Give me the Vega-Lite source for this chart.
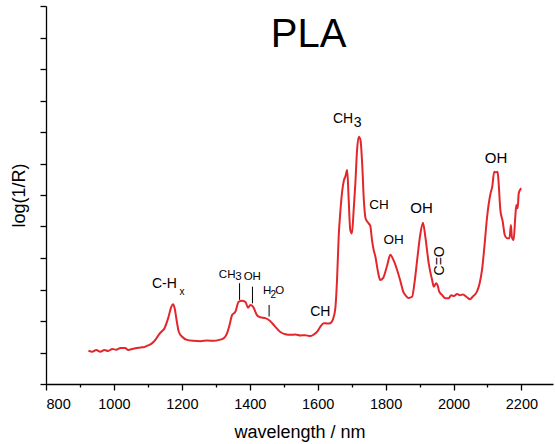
{
  "$schema": "https://vega.github.io/schema/vega-lite/v6.json",
  "autosize": {"type": "none"},
  "padding": {"left": 46, "top": 6, "right": 2, "bottom": 60},
  "width": 507,
  "height": 378,
  "background": "white",
  "config": {
    "view": {"stroke": null},
    "font": "Liberation Sans",
    "axis": {"domainColor": "black", "tickColor": "black", "labelColor": "black", "titleColor": "black", "domainWidth": 1.3, "tickWidth": 1.3, "grid": false, "labelFont": "Liberation Sans", "titleFont": "Liberation Sans", "titleFontWeight": "normal"}
  },
  "datasets": {
    "spec": [
      {"w": 925, "v": 1.06}, {"w": 936, "v": 1.02}, {"w": 948, "v": 1.08}, {"w": 960, "v": 1.02},
      {"w": 972, "v": 1.08}, {"w": 983, "v": 1.05}, {"w": 995, "v": 1.11}, {"w": 1007, "v": 1.09},
      {"w": 1019, "v": 1.14}, {"w": 1033, "v": 1.14}, {"w": 1042, "v": 1.08}, {"w": 1057, "v": 1.12},
      {"w": 1068, "v": 1.14}, {"w": 1078, "v": 1.16}, {"w": 1088, "v": 1.17}, {"w": 1097, "v": 1.21},
      {"w": 1112, "v": 1.29}, {"w": 1122, "v": 1.40}, {"w": 1132, "v": 1.56}, {"w": 1140, "v": 1.66},
      {"w": 1148, "v": 1.75}, {"w": 1160, "v": 2.10}, {"w": 1169, "v": 2.45}, {"w": 1174, "v": 2.53},
      {"w": 1179, "v": 2.40}, {"w": 1185, "v": 2.00}, {"w": 1191, "v": 1.66}, {"w": 1201, "v": 1.50},
      {"w": 1215, "v": 1.40}, {"w": 1235, "v": 1.37}, {"w": 1255, "v": 1.36}, {"w": 1275, "v": 1.38},
      {"w": 1294, "v": 1.37}, {"w": 1310, "v": 1.40}, {"w": 1323, "v": 1.45}, {"w": 1333, "v": 1.61},
      {"w": 1340, "v": 1.85}, {"w": 1348, "v": 2.19}, {"w": 1358, "v": 2.30}, {"w": 1367, "v": 2.61},
      {"w": 1377, "v": 2.64}, {"w": 1387, "v": 2.61}, {"w": 1395, "v": 2.42}, {"w": 1402, "v": 2.51},
      {"w": 1410, "v": 2.45}, {"w": 1421, "v": 2.19}, {"w": 1431, "v": 2.12}, {"w": 1446, "v": 2.09},
      {"w": 1460, "v": 2.00}, {"w": 1475, "v": 1.82}, {"w": 1490, "v": 1.65}, {"w": 1505, "v": 1.58},
      {"w": 1520, "v": 1.56}, {"w": 1535, "v": 1.57}, {"w": 1549, "v": 1.54}, {"w": 1563, "v": 1.55},
      {"w": 1578, "v": 1.52}, {"w": 1587, "v": 1.56}, {"w": 1600, "v": 1.68}, {"w": 1608, "v": 1.82},
      {"w": 1618, "v": 1.93}, {"w": 1628, "v": 1.92}, {"w": 1637, "v": 1.93}, {"w": 1645, "v": 2.05},
      {"w": 1652, "v": 2.40}, {"w": 1657, "v": 3.30}, {"w": 1662, "v": 4.70}, {"w": 1667, "v": 5.50},
      {"w": 1672, "v": 6.10}, {"w": 1677, "v": 6.45}, {"w": 1682, "v": 6.60}, {"w": 1687, "v": 6.79},
      {"w": 1691, "v": 5.94}, {"w": 1696, "v": 4.89}, {"w": 1701, "v": 4.78}, {"w": 1706, "v": 5.52},
      {"w": 1711, "v": 6.37}, {"w": 1716, "v": 7.43}, {"w": 1721, "v": 7.85}, {"w": 1726, "v": 7.75},
      {"w": 1731, "v": 7.01}, {"w": 1736, "v": 5.84}, {"w": 1741, "v": 5.26}, {"w": 1750, "v": 5.10},
      {"w": 1755, "v": 5.02}, {"w": 1760, "v": 4.57}, {"w": 1765, "v": 4.25}, {"w": 1770, "v": 4.04},
      {"w": 1777, "v": 3.60}, {"w": 1784, "v": 3.30}, {"w": 1793, "v": 3.37}, {"w": 1805, "v": 3.78},
      {"w": 1814, "v": 4.10}, {"w": 1823, "v": 3.94}, {"w": 1834, "v": 3.62}, {"w": 1844, "v": 3.25},
      {"w": 1852, "v": 2.93}, {"w": 1860, "v": 2.80}, {"w": 1867, "v": 2.73}, {"w": 1878, "v": 2.77},
      {"w": 1885, "v": 3.20}, {"w": 1893, "v": 3.94}, {"w": 1902, "v": 4.73}, {"w": 1910, "v": 5.12},
      {"w": 1917, "v": 4.68}, {"w": 1927, "v": 3.83}, {"w": 1937, "v": 3.30}, {"w": 1942, "v": 3.09},
      {"w": 1949, "v": 3.20}, {"w": 1953, "v": 3.14}, {"w": 1958, "v": 2.93}, {"w": 1966, "v": 2.83},
      {"w": 1976, "v": 2.72}, {"w": 1986, "v": 2.72}, {"w": 1993, "v": 2.82}, {"w": 2001, "v": 2.79},
      {"w": 2011, "v": 2.86}, {"w": 2018, "v": 2.82}, {"w": 2028, "v": 2.84}, {"w": 2038, "v": 2.77},
      {"w": 2048, "v": 2.69}, {"w": 2058, "v": 2.79}, {"w": 2069, "v": 2.93}, {"w": 2077, "v": 3.20},
      {"w": 2084, "v": 3.62}, {"w": 2091, "v": 4.36}, {"w": 2099, "v": 5.31}, {"w": 2109, "v": 6.05},
      {"w": 2114, "v": 6.26}, {"w": 2120, "v": 6.74}, {"w": 2125, "v": 6.72}, {"w": 2130, "v": 6.74},
      {"w": 2133, "v": 6.37}, {"w": 2138, "v": 5.52}, {"w": 2145, "v": 5.15}, {"w": 2151, "v": 4.73},
      {"w": 2158, "v": 4.63}, {"w": 2165, "v": 4.63}, {"w": 2169, "v": 5.05}, {"w": 2172, "v": 4.66},
      {"w": 2177, "v": 4.57}, {"w": 2182, "v": 5.31}, {"w": 2185, "v": 5.68}, {"w": 2189, "v": 5.58},
      {"w": 2192, "v": 6.05}, {"w": 2197, "v": 6.18}, {"w": 2200, "v": 6.21}
    ],
    "big": [
      {"w": 1573, "v": 10.70, "t": "PLA"}
    ],
    "lab15": [
      {"w": 1873, "v": 5.42, "t": "OH"},
      {"w": 2092, "v": 7.03, "t": "OH"}
    ],
    "lab14": [
      {"w": 1112, "v": 3.05, "t": "C-H"},
      {"w": 1645, "v": 8.30, "t": "CH"},
      {"w": 1706, "v": 8.17, "t": "3"},
      {"w": 1578, "v": 2.17, "t": "CH"}
    ],
    "lab13": [
      {"w": 1752, "v": 5.55, "t": "CH"},
      {"w": 1794, "v": 4.44, "t": "OH"}
    ],
    "lab11": [
      {"w": 1309, "v": 3.37, "t": "CH"},
      {"w": 1357, "v": 3.29, "t": "3"},
      {"w": 1382, "v": 3.30, "t": "OH"},
      {"w": 1439, "v": 2.86, "t": "H"},
      {"w": 1475, "v": 2.86, "t": "O"}
    ],
    "sub": [
      {"w": 1193, "v": 2.83, "t": "x"},
      {"w": 1461, "v": 2.74, "t": "2"}
    ],
    "rot": [
      {"w": 1959, "v": 3.91, "t": "C=O"}
    ],
    "rules": [
      {"w": 1370, "v": 2.67, "v2": 3.20},
      {"w": 1408, "v": 2.56, "v2": 3.09},
      {"w": 1457, "v": 2.14, "v2": 2.51}
    ]
  },
  "encoding": {
    "x": {
      "field": "w", "type": "quantitative",
      "scale": {"domain": [800, 2293], "nice": false, "zero": false},
      "axis": {
        "title": "wavelength / nm", "titleFontSize": 18, "titlePadding": 13,
        "values": [800, 900, 1000, 1100, 1200, 1300, 1400, 1500, 1600, 1700, 1800, 1900, 2000, 2100, 2200],
        "format": "d",
        "labelExpr": "datum.value % 200 == 0 ? datum.label : ''",
        "labelFontSize": 14.5, "labelPadding": 7, "labelOverlap": false,
        "tickSize": {"condition": {"test": "datum.value % 200 == 0", "value": 6}, "value": 3}
      }
    },
    "y": {
      "field": "v", "type": "quantitative",
      "scale": {"domain": [0, 12], "nice": false},
      "axis": {
        "title": "log(1/R)", "titleFontSize": 18, "titlePadding": 11,
        "values": [0, 1, 2, 3, 4, 5, 6, 7, 8, 9, 10, 11, 12],
        "labelExpr": "''", "labelOverlap": false, "labelPadding": 0,
        "tickSize": 6
      }
    }
  },
  "layer": [
    {
      "data": {"name": "spec"},
      "mark": {"type": "line", "color": "#e3262c", "strokeWidth": 2, "interpolate": "monotone"}
    },
    {
      "data": {"name": "rules"},
      "mark": {"type": "rule", "color": "black", "strokeWidth": 1},
      "encoding": {"y2": {"field": "v2"}}
    },
    {
      "data": {"name": "big"},
      "mark": {"type": "text", "fontSize": 40, "align": "center", "baseline": "alphabetic", "color": "black"},
      "encoding": {"text": {"field": "t"}}
    },
    {
      "data": {"name": "lab15"},
      "mark": {"type": "text", "fontSize": 15, "align": "left", "baseline": "alphabetic", "color": "black"},
      "encoding": {"text": {"field": "t"}}
    },
    {
      "data": {"name": "lab14"},
      "mark": {"type": "text", "fontSize": 14, "align": "left", "baseline": "alphabetic", "color": "black"},
      "encoding": {"text": {"field": "t"}}
    },
    {
      "data": {"name": "lab13"},
      "mark": {"type": "text", "fontSize": 13.5, "align": "left", "baseline": "alphabetic", "color": "black"},
      "encoding": {"text": {"field": "t"}}
    },
    {
      "data": {"name": "lab11"},
      "mark": {"type": "text", "fontSize": 11.5, "align": "left", "baseline": "alphabetic", "color": "black"},
      "encoding": {"text": {"field": "t"}}
    },
    {
      "data": {"name": "sub"},
      "mark": {"type": "text", "fontSize": 10, "align": "left", "baseline": "alphabetic", "color": "black"},
      "encoding": {"text": {"field": "t"}}
    },
    {
      "data": {"name": "rot"},
      "mark": {"type": "text", "fontSize": 14, "align": "center", "baseline": "middle", "angle": 270, "color": "black"},
      "encoding": {"text": {"field": "t"}}
    }
  ]
}
